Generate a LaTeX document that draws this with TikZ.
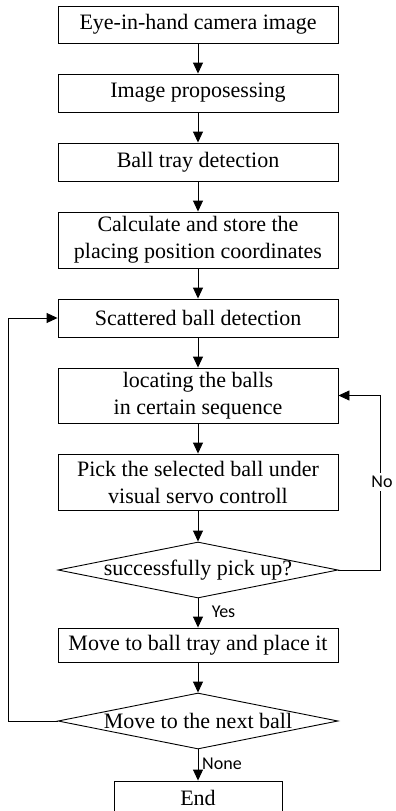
\documentclass[tikz,border=0pt]{standalone}
\usepackage{fontspec}
\setmainfont{Liberation Serif}
\newfontfamily\lblfont{Carlito}
\usetikzlibrary{shapes.geometric,arrows.meta}
\tikzset{
  box/.style={draw, line width=0.9pt, minimum width=280pt, inner sep=0pt,
    align=center, font=\fontsize{22}{27}\selectfont},
  dec/.style={draw, diamond, shape aspect=5, line width=0.9pt,
    minimum width=280pt, minimum height=56pt, inner sep=-2pt,
    font=\fontsize{22}{27}\selectfont},
  lbl/.style={font=\lblfont\fontsize{18}{20}\selectfont, inner sep=0pt},
}
\begin{document}
\begin{tikzpicture}[x=1pt,y=-1pt]
      \useasboundingbox (0,0) rectangle (396,811);
      \draw
        (198,24.5) node[box,minimum height=37pt] (cam){Eye-in-hand camera image}
        (198,93) node[box,minimum height=38pt] (proc){Image proposessing}
        (198,162) node[box,minimum height=38pt] (tray){Ball tray detection}
        (198,240) node[box,minimum height=56pt] (calc){Calculate and store the\\placing position coordinates}
        (198,318) node[box,minimum height=38pt] (scat){Scattered ball detection}
        (198,395.5) node[box,minimum height=55pt] (locate){locating the balls\\in certain sequence}
        (198,482) node[box,minimum height=56pt] (pick){Pick the selected ball under\\visual servo controll}
        (198,570) node[dec] (succ){successfully pick up?}
        (198,645) node[box,minimum height=34pt] (place){Move to ball tray and place it}
        (198,721) node[dec] (next){Move to the next ball}
        (198,798) node[box,minimum width=168pt,minimum height=34pt] (end){End};
      \coordinate (noturn) at (380,570);
      \coordinate (nextturn) at (8,721);
      \begin{scope}[-{Triangle[width=10pt,length=11pt]}, line width=0.9pt]
        \draw (cam) to (proc);
        \draw (proc) to (tray);
        \draw (tray) to (calc);
        \draw (calc) to (scat);
        \draw (scat) to (locate);
        \draw (locate) to (pick);
        \draw (pick) to (succ);
        \draw (succ) to (place);
        \draw (place) to (next);
        \draw (next) to (end);
        \draw (succ.east) -- (noturn) |- (locate.east);
        \draw (next.west) -- (nextturn) |- (scat.west);
      \end{scope}
      \node[lbl] (yes) at (223.5,612) {Yes};
      \node[lbl] (none) at (222,764) {None};
      \node[lbl, fill=white, inner sep=3pt] (no) at (382,482) {No};
    \end{tikzpicture}
\end{document}
